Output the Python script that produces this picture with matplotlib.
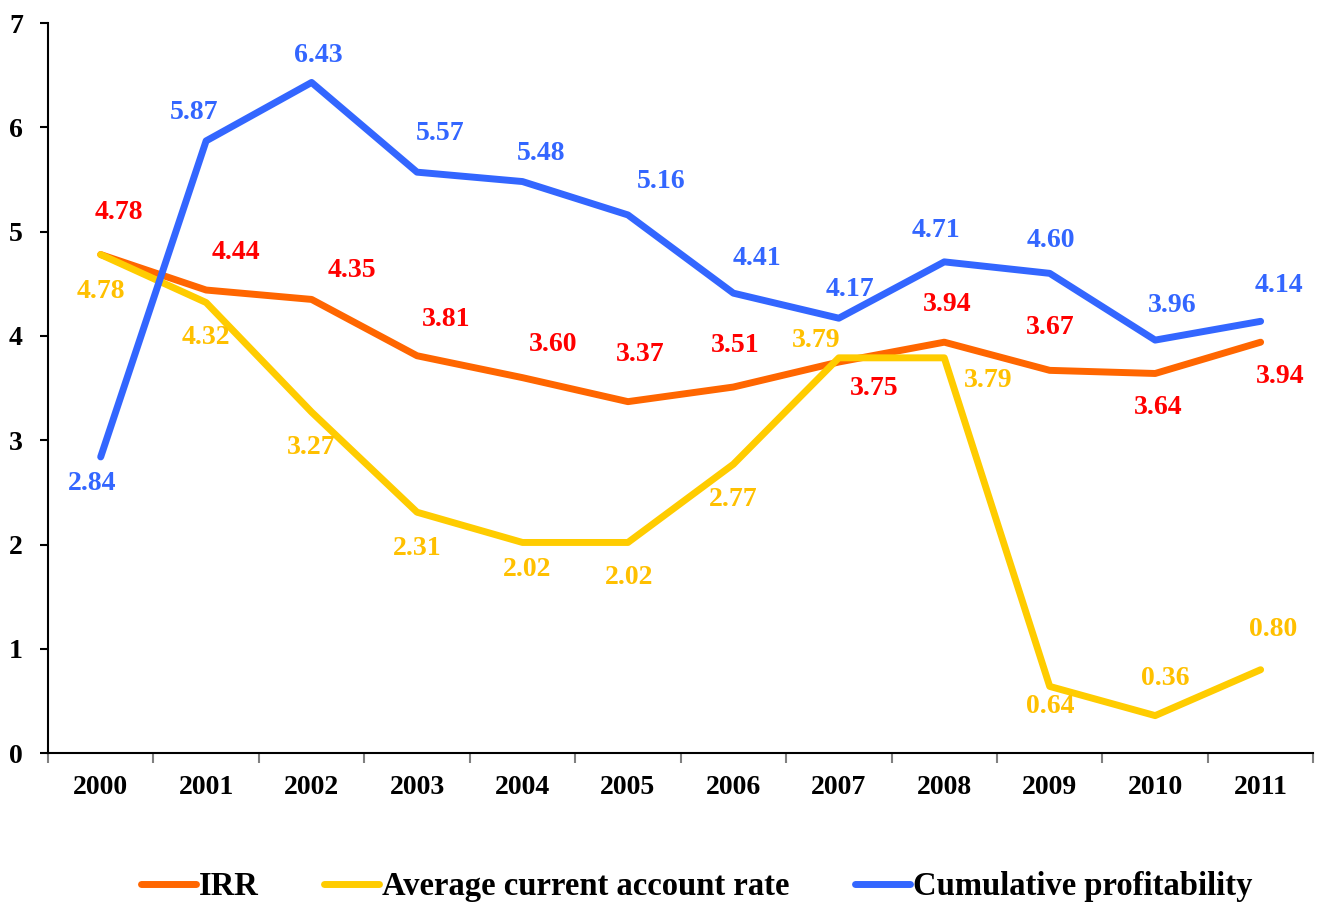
import matplotlib
matplotlib.use("Agg")
import matplotlib.pyplot as plt

plt.rcParams['font.family'] = ['Liberation Serif', 'DejaVu Serif']
plt.rcParams['font.weight'] = 'bold'

years = ['2000', '2001', '2002', '2003', '2004', '2005',
         '2006', '2007', '2008', '2009', '2010', '2011']
irr = [4.78, 4.44, 4.35, 3.81, 3.60, 3.37, 3.51, 3.75, 3.94, 3.67, 3.64, 3.94]
acct_rate = [4.78, 4.32, 3.27, 2.31, 2.02, 2.02, 2.77, 3.79, 3.79, 0.64, 0.36, 0.80]
cum_profit = [2.84, 5.87, 6.43, 5.57, 5.48, 5.16, 4.41, 4.17, 4.71, 4.60, 3.96, 4.14]

# label offsets in pixels (dx, dy)
irr_off = [(18, 42), (30, 38), (40, 29), (29, 36), (31, 33), (12, 47),
           (2, 42), (35, -26), (3, 38), (0, 43), (3, -34), (20, -34)]
acct_off = [(0, -37), (0, -35), (0, -35), (0, -36), (5, -27), (1, -35),
            (0, -35), (-23, 17), (44, -23), (1, -20), (10, 37), (13, 40)]
cum_off = [(-9, -27), (-12, 28), (7, 27), (23, 39), (19, 28), (33, 33),
           (24, 35), (11, 29), (-8, 31), (1, 33), (17, 35), (18, 36)]

fig = plt.figure(figsize=(13.25, 9.02), dpi=100)
ax = fig.add_axes([0.0362, 0.165, 0.955, 0.8095])

x = list(range(len(years)))
series = [
    (irr, '#FF6600', '#FF0000', irr_off, 'IRR'),
    (acct_rate, '#FFCC00', '#FFC000', acct_off, 'Average current account rate'),
    (cum_profit, '#3366FF', '#3366FF', cum_off, 'Cumulative profitability'),
]
for vals, col, lcol, offs, name in series:
    ax.plot(x, vals, color=col, lw=5, solid_capstyle='round',
            solid_joinstyle='round', label=name)
    for xi, v, (dx, dy) in zip(x, vals, offs):
        ax.annotate(f'{v:.2f}', (xi, v), xytext=(dx * 0.72, dy * 0.72),
                    textcoords='offset points', ha='center', va='center',
                    color=lcol, fontsize=20, fontweight='bold')

ax.set_xlim(-0.5, len(years) - 0.5)
ax.set_ylim(0, 7)
ax.set_yticks(range(8))
ax.set_xticks(x)
ax.set_xticklabels(years)
ax.set_xticks([i - 0.5 for i in range(len(years) + 1)], minor=True)
ax.tick_params(axis='x', which='major', length=0, pad=16, labelsize=20)
ax.tick_params(axis='x', which='minor', length=7, width=1.5, color='#808080',
               direction='out')
ax.tick_params(axis='y', length=6, width=1.5, pad=12, labelsize=20,
               direction='out')
for s in ['top', 'right']:
    ax.spines[s].set_visible(False)
ax.spines['left'].set_linewidth(1.5)
ax.spines['bottom'].set_linewidth(1.5)

fig.legend(loc='center', bbox_to_anchor=(0.5257, 0.017), ncol=3, frameon=False,
           fontsize=23.5, handlelength=1.68, columnspacing=2.0, handletextpad=0.1)

fig.savefig('out.png', dpi=100)
